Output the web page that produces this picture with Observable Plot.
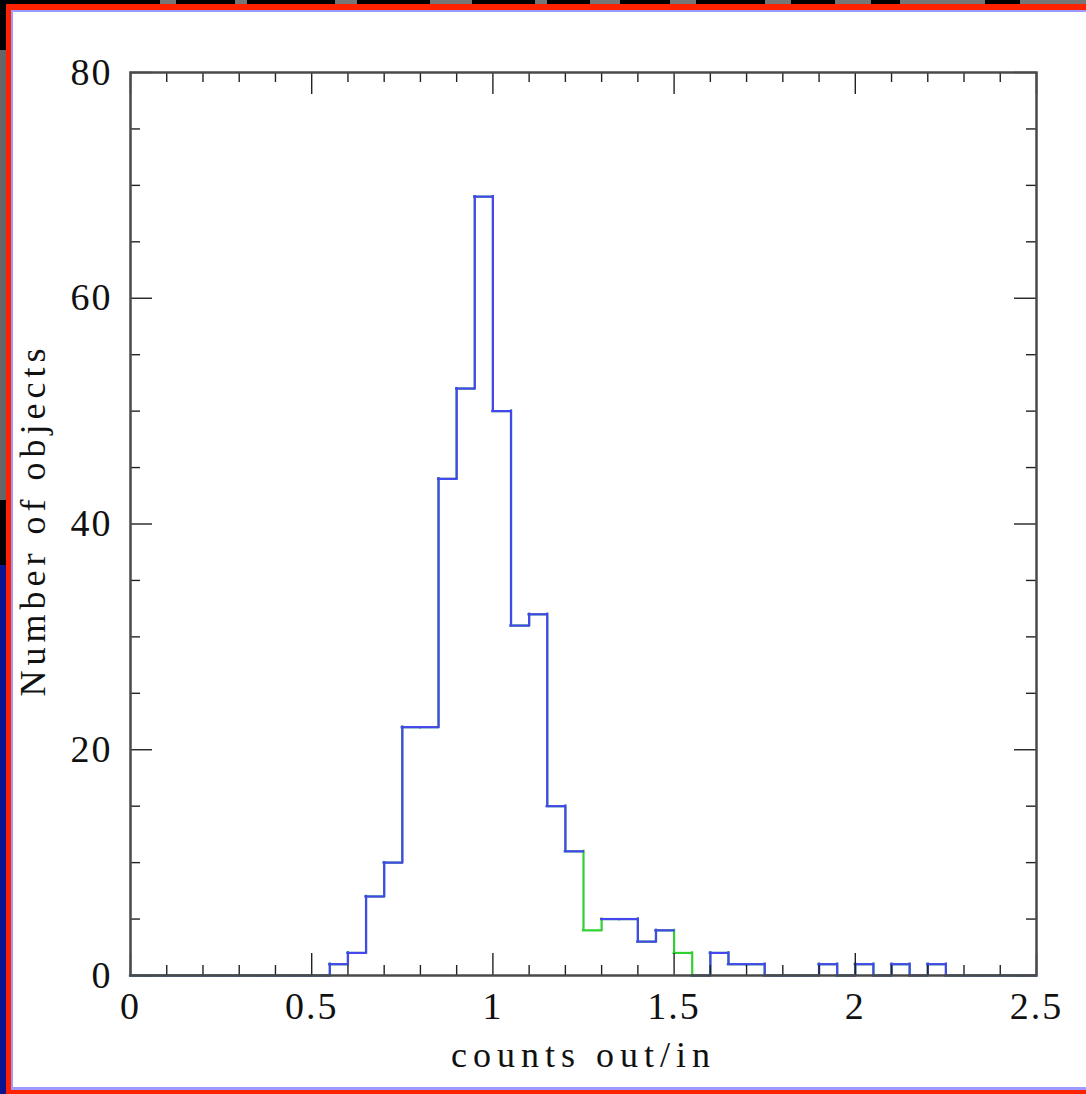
<!DOCTYPE html>
<html>
<head>
<meta charset="utf-8">
<script src="https://cdn.jsdelivr.net/npm/d3@7"></script>
<script src="https://cdn.jsdelivr.net/npm/@observablehq/plot@0.6"></script>
<style>
  html, body { margin: 0; padding: 0; background: #fff; }
  #wrap { position: relative; width: 1086px; height: 1094px; overflow: hidden; background: #fff; }
  #wrap svg { position: absolute; left: 0; top: 0; }
  .b { position: absolute; }
</style>
</head>
<body>
<div id="wrap">
  <div id="chart"></div>
  <!-- decorative screenshot borders -->
  <div class="b" style="left:0;top:0;width:1086px;height:4px;background:#000"></div>
  <div class="b" style="left:160px;top:0;width:16px;height:4px;background:#777"></div>
  <div class="b" style="left:235px;top:0;width:12px;height:4px;background:#777"></div>
  <div class="b" style="left:335px;top:0;width:22px;height:4px;background:#777"></div>
  <div class="b" style="left:430px;top:0;width:42px;height:4px;background:#777"></div>
  <div class="b" style="left:535px;top:0;width:12px;height:4px;background:#777"></div>
  <div class="b" style="left:590px;top:0;width:30px;height:4px;background:#777"></div>
  <div class="b" style="left:670px;top:0;width:26px;height:4px;background:#777"></div>
  <div class="b" style="left:765px;top:0;width:26px;height:4px;background:#777"></div>
  <div class="b" style="left:835px;top:0;width:36px;height:4px;background:#777"></div>
  <div class="b" style="left:900px;top:0;width:85px;height:4px;background:#777"></div>
  <div class="b" style="left:1020px;top:0;width:66px;height:4px;background:#777"></div>
  <div class="b" style="left:0;top:0;width:6px;height:565px;background:#000"></div>
  <div class="b" style="left:0;top:50px;width:6px;height:450px;background:#666"></div>
  <div class="b" style="left:0;top:565px;width:6px;height:529px;background:#0a1490"></div>
  <div class="b" style="left:6px;top:4px;width:1080px;height:6px;background:#ff2200"></div>
  <div class="b" style="left:6px;top:4px;width:5px;height:1090px;background:#ff2200"></div>
  <div class="b" style="left:6px;top:1090px;width:1080px;height:4px;background:#ff2200"></div>
  <div class="b" style="left:11px;top:10px;width:1075px;height:2px;background:#9a9aff"></div>
  <div class="b" style="left:11px;top:10px;width:2px;height:1080px;background:#9a9aff"></div>
  <div class="b" style="left:11px;top:1087px;width:1075px;height:3px;background:#9a9aff"></div>
</div>
<script>
// ---- data ----
const binEdges = [0.00,0.05,0.10,0.15,0.20,0.25,0.30,0.35,0.40,0.45,
                  0.50,0.55,0.60,0.65,0.70,0.75,0.80,0.85,0.90,0.95,
                  1.00,1.05,1.10,1.15,1.20,1.25,1.30,1.35,1.40,1.45,
                  1.50,1.55,1.60,1.65,1.70,1.75,1.80,1.85,1.90,1.95,
                  2.00,2.05,2.10,2.15,2.20,2.25,2.30,2.35,2.40,2.45,2.50];
// counts per bin (null = segment hidden under the other colour)
const blueCounts = [0,0,0,0,0,0,0,0,0,0,
                    0,1,2,7,10,22,22,44,52,69,
                    50,31,32,15,11,null,5,5,3,4,
                    null,0,2,1,1,0,0,0,1,0,
                    1,0,1,0,1,0,0,0,0,0];
const greenCounts = [0,0,0,0,0,0,0,0,0,0,
                     0,1,2,7,10,22,22,44,52,69,
                     50,31,32,15,11,4,5,5,3,4,
                     2,0,2,1,1,0,0,0,1,0,
                     1,0,1,0,1,0,0,0,0,0];
const xTicks = [0, 0.5, 1, 1.5, 2, 2.5];
const xTickLabels = ["0", "0.5", "1", "1.5", "2", "2.5"];
const xMinorTicks = [0.1,0.2,0.3,0.4,0.6,0.7,0.8,0.9,1.1,1.2,1.3,1.4,1.6,1.7,1.8,1.9,2.1,2.2,2.3,2.4];
const yTicks = [0, 20, 40, 60, 80];
const yTickLabels = ["0", "20", "40", "60", "80"];
const yMinorTicks = [5,10,15,25,30,35,45,50,55,65,70,75];
const xLabel = "counts out/in";
const yLabel = "Number of objects";

// ---- build step segments from histogram counts ----
function steps(counts) {
  const h = [], v = [];
  const n = counts.length;
  for (let i = 0; i < n; i++) {
    if (counts[i] != null) h.push({x1: binEdges[i], x2: binEdges[i + 1], y: counts[i]});
  }
  for (let j = 0; j <= n; j++) {
    const a = j === 0 ? 0 : counts[j - 1];
    const b = j === n ? 0 : counts[j];
    if (a != null && b != null && a !== b) v.push({x: binEdges[j], y1: a, y2: b});
  }
  return {h, v};
}
const g = steps(greenCounts), b = steps(blueCounts);

const W = 1086, H = 1094, mL = 130, mR = 50, mT = 72, mB = 119;
const pw = W - mL - mR, ph = H - mT - mB;
const minorLen = 10, majorLen = 22;
const tickColor = "#222";
const lineOpts = {strokeWidth: 2.2, strokeLinecap: "square"};
const tickLabelStyle = {fontSize: 38, fill: "#111", lineAnchor: "middle"};

const plot = Plot.plot({
  width: W, height: H,
  marginLeft: mL, marginRight: mR, marginTop: mT, marginBottom: mB,
  x: {domain: [0, 2.5], axis: null},
  y: {domain: [0, 80], axis: null},
  style: {fontFamily: "'Liberation Serif', serif", fontSize: "36px", color: "#111", background: "#fff"},
  marks: [
    Plot.ruleY(g.h, {x1: "x1", x2: "x2", y: "y", stroke: "#2fd02f", ...lineOpts}),
    Plot.ruleX(g.v, {x: "x", y1: "y1", y2: "y2", stroke: "#2fd02f", ...lineOpts}),
    Plot.ruleY(b.h, {x1: "x1", x2: "x2", y: "y", stroke: "#4646f0", ...lineOpts}),
    Plot.ruleX(b.v, {x: "x", y1: "y1", y2: "y2", stroke: "#4646f0", ...lineOpts}),
    // ticks (inward on all four sides)
    Plot.tickX(xMinorTicks, {x: d => d, insetTop: ph - minorLen, stroke: tickColor, strokeWidth: 1.4}),
    Plot.tickX(xMinorTicks, {x: d => d, insetBottom: ph - minorLen, stroke: tickColor, strokeWidth: 1.4}),
    Plot.tickX(xTicks, {x: d => d, insetTop: ph - majorLen, stroke: tickColor, strokeWidth: 1.4}),
    Plot.tickX(xTicks, {x: d => d, insetBottom: ph - majorLen, stroke: tickColor, strokeWidth: 1.4}),
    Plot.tickY(yMinorTicks, {y: d => d, insetRight: pw - minorLen, stroke: tickColor, strokeWidth: 1.4}),
    Plot.tickY(yMinorTicks, {y: d => d, insetLeft: pw - minorLen, stroke: tickColor, strokeWidth: 1.4}),
    Plot.tickY(yTicks, {y: d => d, insetRight: pw - majorLen, stroke: tickColor, strokeWidth: 1.4}),
    Plot.tickY(yTicks, {y: d => d, insetLeft: pw - majorLen, stroke: tickColor, strokeWidth: 1.4}),
    Plot.frame({stroke: "#4a4a4a", strokeWidth: 2.5}),
    // tick labels
    Plot.text(xTicks, {x: d => d, text: (d, i) => xTickLabels[i], frameAnchor: "bottom", textAnchor: "middle", dy: 31, ...tickLabelStyle}),
    Plot.text(yTicks, {y: d => d, text: (d, i) => yTickLabels[i], frameAnchor: "left", textAnchor: "end", dx: -18, ...tickLabelStyle}),
    // axis labels
    Plot.text([xLabel], {frameAnchor: "bottom", textAnchor: "middle", lineAnchor: "middle", dy: 80, fontSize: 36, fill: "#111"}),
    Plot.text([yLabel], {frameAnchor: "left", textAnchor: "middle", lineAnchor: "middle", rotate: -90, dx: -97, dy: -4, fontSize: 36, fill: "#111"})
  ]
});
// letter spacing for the widely-spaced plotter font look
plot.querySelectorAll("text").forEach(t => {
  const s = t.textContent;
  if (s === xLabel) t.setAttribute("letter-spacing", "6");
  else if (s === yLabel) t.setAttribute("letter-spacing", "5");
  else t.setAttribute("letter-spacing", "2");
});
document.getElementById("chart").appendChild(plot);
</script>
</body>
</html>
